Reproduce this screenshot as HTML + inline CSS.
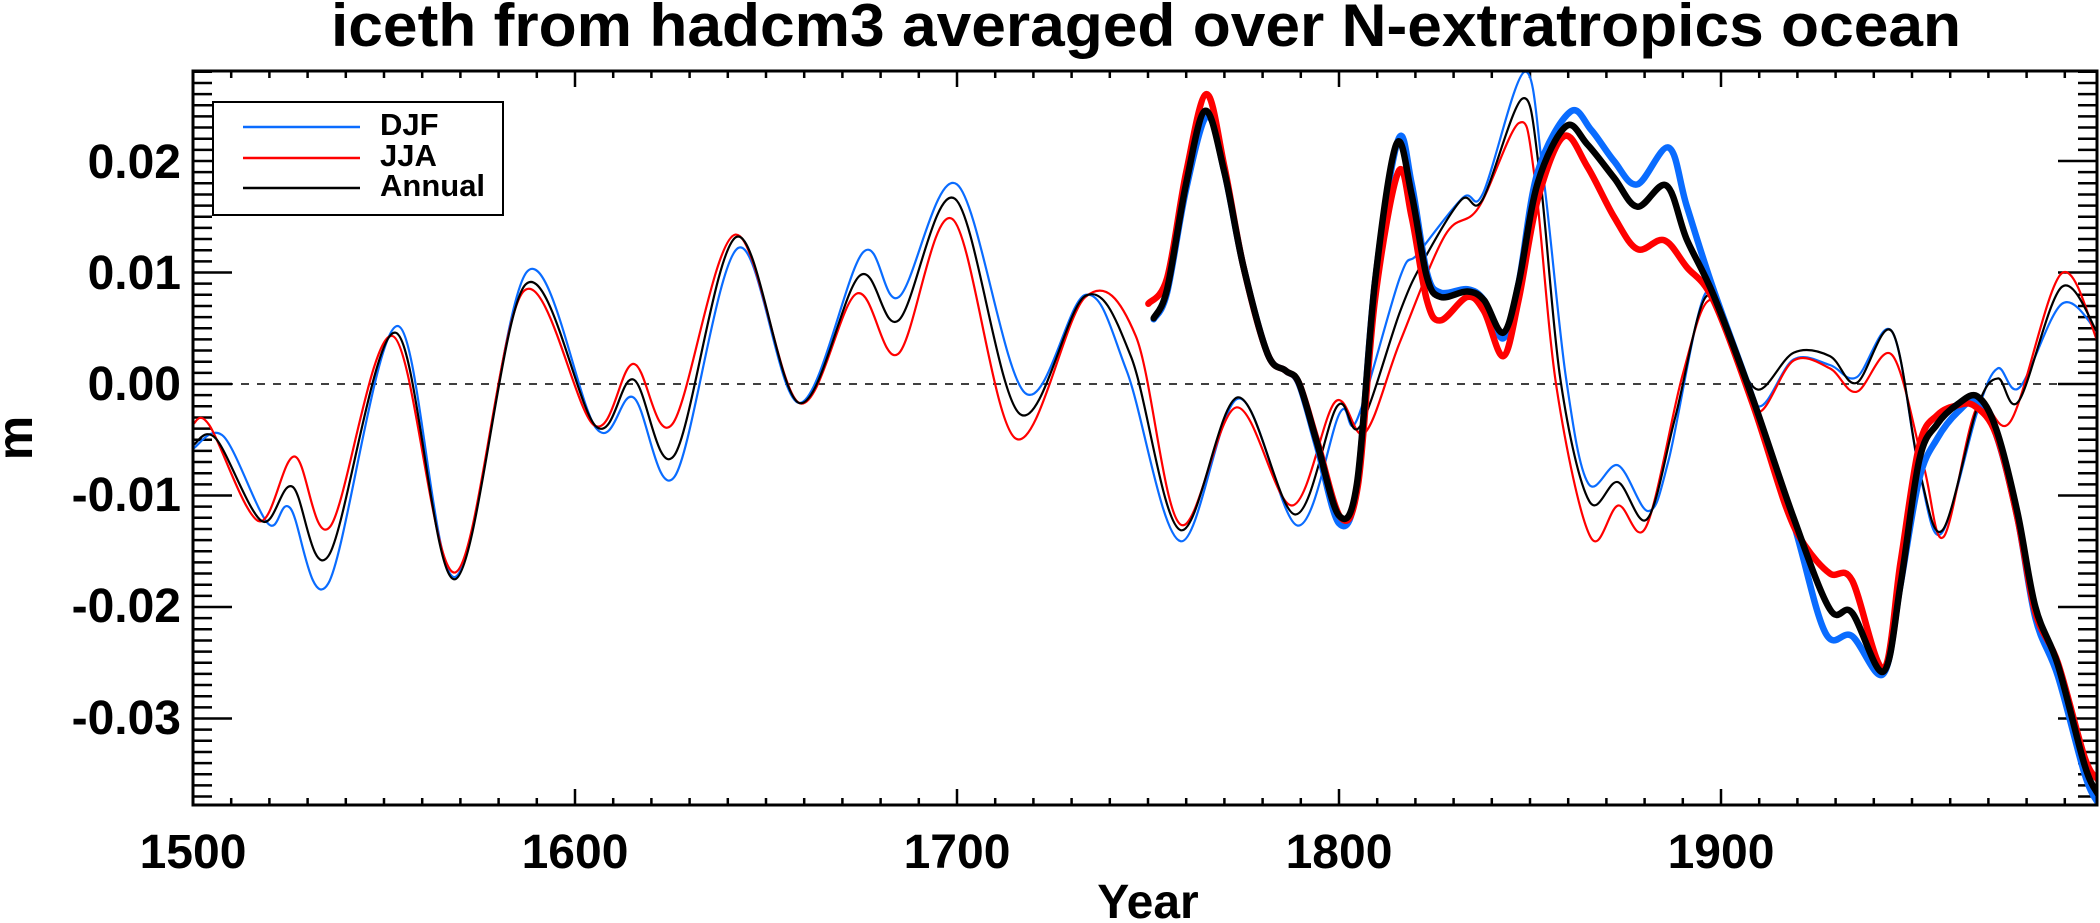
<!DOCTYPE html>
<html><head><meta charset="utf-8"><style>
html,body{margin:0;padding:0;background:#fff;}
svg{display:block;}
text{font-family:"Liberation Sans",Arial,sans-serif;font-weight:bold;fill:#000;}
</style></head><body>
<svg id="s" width="2100" height="923" viewBox="0 0 2100 923" xmlns="http://www.w3.org/2000/svg">
<defs><clipPath id="c"><rect x="193" y="71" width="1904" height="734"/></clipPath></defs>
<rect width="2100" height="923" fill="#fff"/>
<text x="1146" y="46" font-size="60" text-anchor="middle" textLength="1630" lengthAdjust="spacingAndGlyphs">iceth from hadcm3 averaged over N-extratropics ocean</text>
<g id="ticks" stroke="#000" stroke-width="2.5"></g>
<line x1="193" y1="384" x2="2097" y2="384" stroke="#000" stroke-width="1.6" stroke-dasharray="8,8"/>
<g id="series" clip-path="url(#c)" fill="none" stroke-linejoin="round" stroke-linecap="round"></g>
<rect x="193" y="71" width="1904" height="734" fill="none" stroke="#000" stroke-width="3"/>
<g font-size="48" text-anchor="end">
<text x="181" y="178">0.02</text>
<text x="181" y="400">0.00</text>
<text x="181" y="289">0.01</text>
<text x="181" y="511">-0.01</text>
<text x="181" y="622">-0.02</text>
<text x="181" y="734">-0.03</text>
</g>
<g font-size="48" text-anchor="middle">
<text x="193" y="868">1500</text>
<text x="575" y="868">1600</text>
<text x="957" y="868">1700</text>
<text x="1339" y="868">1800</text>
<text x="1721" y="868">1900</text>
<text x="1148" y="918">Year</text>
</g>
<text font-size="50" text-anchor="middle" transform="translate(32,438) rotate(-90)">m</text>
<rect x="213" y="102" width="290" height="113" fill="#fff" stroke="#000" stroke-width="2"/>
<line x1="243" y1="127" x2="360" y2="127" stroke="#0a6cff" stroke-width="2.5"/>
<line x1="243" y1="158" x2="360" y2="158" stroke="#ff0000" stroke-width="2.5"/>
<line x1="243" y1="188" x2="360" y2="188" stroke="#000" stroke-width="2.5"/>
<g font-size="31"><text x="380" y="135">DJF</text><text x="380" y="166">JJA</text><text x="380" y="196">Annual</text></g>
</svg>
<script>
var NS="http://www.w3.org/2000/svg";
function X(y){return 193+(y-1500)*3.82;}
function Y(v){return 384-v*11150;}
var t=document.getElementById("ticks"),d="";
for(var yr=1510;yr<2000;yr+=10){var x=X(yr),L=(yr%100==0)?16:7;d+="M"+x+" 805V"+(805-L)+"M"+x+" 71V"+(71+L);}
for(var k=-37;k<=28;k++){var y=Y(k*0.001),L=(k%10==0)?39:19;d+="M193 "+y+"H"+(193+L)+"M2097 "+y+"H"+(2097-L);}
var p=document.createElementNS(NS,"path");p.setAttribute("d",d);t.appendChild(p);
function path(a){var pts=[];for(var i=0;i<a.length;i+=2)pts.push([X(a[i]),Y(a[i+1])]);
var s="M"+pts[0][0].toFixed(1)+" "+pts[0][1].toFixed(1);
for(var i=0;i<pts.length-1;i++){var p0=pts[Math.max(0,i-1)],p1=pts[i],p2=pts[i+1],p3=pts[Math.min(pts.length-1,i+2)];
var c1=[p1[0]+(p2[0]-p0[0])/6,p1[1]+(p2[1]-p0[1])/6],c2=[p2[0]-(p3[0]-p1[0])/6,p2[1]-(p3[1]-p1[1])/6];
s+="C"+c1[0].toFixed(1)+" "+c1[1].toFixed(1)+" "+c2[0].toFixed(1)+" "+c2[1].toFixed(1)+" "+p2[0].toFixed(1)+" "+p2[1].toFixed(1);}
return s;}
var g=document.getElementById("series");
function add(a,col,w){var e=document.createElementNS(NS,"path");e.setAttribute("d",path(a));e.setAttribute("stroke",col);e.setAttribute("stroke-width",w);g.appendChild(e);}
var BL="#0a6cff",RD="#ff0000",BK="#000";
var bt=[1500,-0.0058,1508,-0.0047,1519.6,-0.0125,1525.4,-0.0111,1535.4,-0.0179,1553.5,0.0052,1568.7,-0.0173,1587.5,0.0101,1605.6,-0.004,1615.3,-0.0012,1626.1,-0.0083,1642.7,0.0122,1658.7,-0.0017,1675.4,0.0118,1684.8,0.0078,1700,0.0179,1717.8,-0.0008,1733.6,0.008,1744.4,0.0012,1758.5,-0.0141,1773.7,-0.0013,1789.2,-0.0127,1800.2,-0.0026,1804.7,-0.0032,1816,0.0096,1820.7,0.0117,1832.4,0.0167,1837.7,0.0171,1848.6,0.028,1853.5,0.0186,1859.4,0.0006,1865.2,-0.0089,1873.1,-0.0073,1881,-0.0114,1886.3,-0.0068,1895.7,0.0080,1902,0.004,1909.7,-0.002,1919,0.0022,1928.5,0.0017,1935.5,0.0006,1944.8,0.0047,1951.9,-0.0078,1957.7,-0.0134,1967.1,-0.0025,1972.4,0.0014,1978.2,-0.0003,1989.3,0.0072,1998.7,0.0046];
var rt=[1500,-0.0036,1504.3,-0.0037,1517.2,-0.0123,1526.6,-0.0065,1535.9,-0.0128,1552.3,0.0043,1568.7,-0.0169,1586.5,0.0083,1605,-0.0037,1615.3,0.0018,1625.5,-0.0036,1642,0.0134,1658.7,-0.0017,1673.7,0.0081,1684.6,0.0027,1698.8,0.0148,1715.4,-0.0049,1733.6,0.0078,1746.8,0.0043,1758.5,-0.0126,1773.1,-0.0021,1787.7,-0.0109,1799,-0.0016,1806.7,-0.0044,1816,0.0038,1827.7,0.0133,1836.5,0.0158,1847.1,0.0234,1851.2,0.0186,1857,-0.0004,1865.8,-0.0137,1873.1,-0.0109,1880.4,-0.0128,1889.8,0.0006,1896.8,0.0075,1903.9,0.0033,1909.7,-0.0025,1919,0.0021,1928.5,0.0014,1935.5,-0.0007,1944.8,0.0026,1953,-0.0073,1958.3,-0.0137,1967.1,-0.002,1975.9,-0.0033,1989.1,0.0099,1998.7,0.0037];
var kt=[1500,-0.0055,1506,-0.0049,1518,-0.0123,1526,-0.0092,1535.5,-0.0154,1553,0.0046,1568.7,-0.0175,1587,0.0089,1605.5,-0.0038,1615.3,0.0004,1626,-0.0064,1642.3,0.0132,1658.7,-0.0017,1674.5,0.0097,1684.7,0.0057,1699.5,0.0166,1716.5,-0.0027,1733.6,0.0079,1745.5,0.0025,1758.5,-0.0131,1773.5,-0.0012,1788.5,-0.0117,1799.5,-0.0020,1805.5,-0.0038,1816,0.0065,1822,0.011,1832,0.0165,1837.5,0.0165,1848,0.0256,1852.5,0.019,1858,0.0003,1865.5,-0.0105,1873,-0.0088,1880.7,-0.0121,1888,-0.003,1896,0.0078,1903,0.0035,1909.7,-0.0005,1919,0.0028,1928.5,0.0025,1935.5,0.0001,1944.8,0.0047,1952,-0.0078,1958,-0.0131,1967.1,-0.0021,1972.5,0.0005,1978,-0.0015,1989.2,0.0087,1998.7,0.0045];
var bT=[1751.5,0.0058,1755,0.0082,1760,0.0175,1765.5,0.024,1770,0.019,1775,0.0105,1781.3,0.0027,1786,0.0012,1789.5,0.0,1794.2,-0.0055,1800,-0.0125,1804.7,-0.0092,1809.4,0.0091,1815.5,0.0219,1819,0.018,1823,0.010,1826.6,0.0082,1833.6,0.0085,1838,0.0075,1843,0.0041,1847,0.009,1852,0.019,1860.5,0.0244,1866,0.0228,1872,0.020,1878.1,0.0179,1886.3,0.0212,1891,0.016,1898,0.0085,1908.5,-0.0015,1919,-0.0125,1927.3,-0.0223,1934.3,-0.0226,1942.5,-0.026,1947,-0.018,1951.9,-0.0085,1956.6,-0.0049,1962,-0.0025,1967.1,-0.0015,1972,-0.0045,1977.6,-0.012,1982.3,-0.021,1988.2,-0.0262,1995.2,-0.035,1998.7,-0.0376];
var rT=[1750.1,0.0072,1755,0.0095,1760,0.019,1765.3,0.026,1770,0.0195,1775,0.0105,1781.3,0.0027,1786,0.0012,1789.5,0.0001,1794.2,-0.0050,1800.5,-0.012,1805,-0.009,1809.4,0.0075,1815.5,0.019,1819,0.015,1823,0.0075,1826.6,0.0057,1833.6,0.0078,1838,0.0065,1843,0.0025,1847,0.0075,1852,0.0165,1858.8,0.0222,1865,0.0195,1872,0.015,1878.1,0.0121,1885.1,0.0129,1891,0.0105,1898,0.0075,1908.5,-0.002,1917,-0.011,1922,-0.0145,1928.5,-0.017,1934.3,-0.0176,1942.5,-0.0255,1947,-0.016,1951.9,-0.0055,1956.6,-0.0028,1962,-0.0019,1966.5,-0.002,1972,-0.0045,1977.6,-0.012,1982.3,-0.0205,1988.2,-0.025,1995.2,-0.0335,1998.7,-0.0355];
var kT=[1751.5,0.0059,1755,0.0085,1760,0.018,1765,0.0245,1770,0.019,1775,0.0105,1781.3,0.0027,1786,0.0012,1789.5,0.0001,1794.2,-0.0052,1800,-0.0118,1804.7,-0.0089,1809.4,0.0091,1815,0.0215,1819,0.017,1823,0.0096,1826.6,0.0078,1833.6,0.0083,1838,0.0075,1843,0.0046,1847,0.009,1852,0.018,1859.4,0.0231,1865,0.0215,1872,0.0185,1878.1,0.0159,1885.7,0.0178,1891,0.013,1898,0.0080,1908.5,-0.0015,1919,-0.012,1928.5,-0.0202,1934.3,-0.0205,1942.5,-0.0258,1947,-0.018,1951.9,-0.0068,1956.6,-0.0036,1962,-0.0018,1967.1,-0.0011,1972,-0.004,1977.6,-0.0115,1982.3,-0.02,1988.2,-0.0252,1995.2,-0.0342,1998.7,-0.0368];
add(bt,BL,2.2);add(rt,RD,2.2);add(kt,BK,2.2);
add(bT,BL,6.5);add(rT,RD,6.5);add(kT,BK,6.5);
</script>
</body></html>
